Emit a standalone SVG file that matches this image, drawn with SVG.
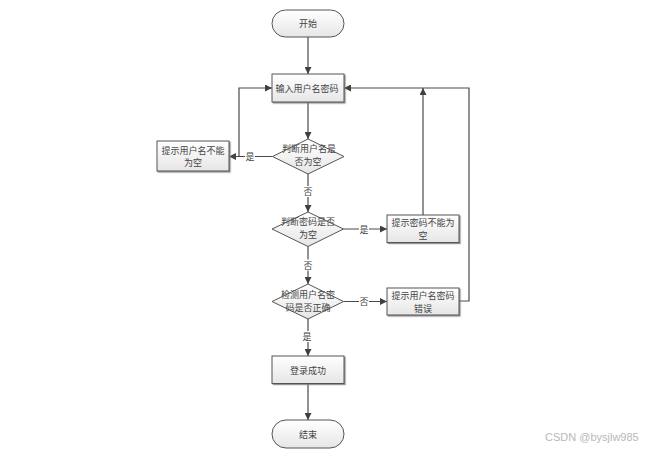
<svg xmlns="http://www.w3.org/2000/svg" width="655" height="450" viewBox="0 0 655 450">
<defs>
<linearGradient id="g" x1="0" y1="0" x2="0" y2="1">
<stop offset="0" stop-color="#ffffff"/>
<stop offset="1" stop-color="#e6e6e6"/>
</linearGradient>
<marker id="ah" viewBox="0 0 10 10" refX="10" refY="5" markerWidth="7" markerHeight="7" markerUnits="userSpaceOnUse" orient="auto">
<path d="M0,0 L10,5 L0,10 z" fill="#404040"/>
</marker>
<filter id="sh" x="-10%" y="-10%" width="130%" height="140%">
<feDropShadow dx="1.2" dy="1.2" stdDeviation="0.6" flood-color="#777" flood-opacity="0.8"/>
</filter>
</defs>
<style>
.shape{fill:url(#g);stroke:#555;stroke-width:1;}
.box{filter:url(#sh);}
text{font-family:"Noto Sans CJK SC","Liberation Sans",sans-serif;font-size:9px;fill:#444;text-anchor:middle;dominant-baseline:central;}
.lbl{font-size:9px;}
.ca{fill:none;stroke:#4a4a4a;stroke-width:1.2;marker-end:url(#ah);}
.wm{font-family:"Liberation Sans",sans-serif;font-size:11px;fill:#b8b8b8;text-anchor:start;}
</style>
<rect width="655" height="450" fill="#ffffff"/>
<g id="connectors">
<path class="ca" d="M308,37 V74"/>
<path class="ca" d="M308,102 V139"/>
<path class="ca" d="M272.5,156.5 H229"/>
<path class="ca" d="M229,156.5 H239 V88 H272"/>
<path class="ca" d="M308,174 V212"/>
<path class="ca" d="M343.5,229 H387"/>
<path class="ca" d="M423,215 V88"/>
<path class="ca" d="M308,246.5 V284"/>
<path class="ca" d="M343.5,301.5 H387"/>
<path class="ca" d="M459,301 H469 V88 H344"/>
<path class="ca" d="M308,319 V356"/>
<path class="ca" d="M308,383.5 V420"/>
<rect x="245" y="151" width="10" height="11" fill="#fff"/>
<text class="lbl" x="250" y="156.5">是</text>
<rect x="303" y="186" width="10" height="11" fill="#fff"/>
<text class="lbl" x="308" y="191.5">否</text>
<rect x="359" y="223.5" width="10" height="11" fill="#fff"/>
<text class="lbl" x="364" y="229">是</text>
<rect x="303" y="259.5" width="10" height="11" fill="#fff"/>
<text class="lbl" x="308" y="265">否</text>
<rect x="359" y="296" width="10" height="11" fill="#fff"/>
<text class="lbl" x="364" y="301.5">否</text>
<rect x="302" y="331" width="10" height="11" fill="#fff"/>
<text class="lbl" x="307" y="336.5">是</text>
</g>
<g id="start">
<rect class="shape" x="272" y="10" width="72" height="27" rx="13.5" ry="13.5"/>
<text x="308" y="23.5">开始</text>
</g>
<g id="input">
<rect class="shape box" x="272" y="74" width="72" height="28"/>
<text x="307" y="88">输入用户名密码</text>
</g>
<g id="check-user-empty">
<polygon class="shape" points="308,139 344,156.5 308,174 272.5,156.5"/>
<text x="309" y="148">判断用户名是</text>
<text x="308" y="161">否为空</text>
</g>
<g id="user-empty-msg">
<rect class="shape box" x="157" y="141" width="72" height="30"/>
<text x="193" y="150">提示用户名不能</text>
<text x="193" y="162.5">为空</text>
</g>
<g id="check-pwd-empty">
<polygon class="shape" points="308,212 343.5,229 308,246.5 272,229"/>
<text x="308" y="221.5">判断密码是否</text>
<text x="308" y="234">为空</text>
</g>
<g id="pwd-empty-msg">
<rect class="shape box" x="387" y="215" width="72" height="27.5"/>
<text x="423" y="222.5">提示密码不能为</text>
<text x="423" y="235">空</text>
</g>
<g id="check-correct">
<polygon class="shape" points="308,284 343.5,301.5 308,319 272,301.5"/>
<text x="308" y="294.5">检测用户名密</text>
<text x="308" y="307">码是否正确</text>
</g>
<g id="wrong-msg">
<rect class="shape box" x="387" y="288" width="72" height="27"/>
<text x="423" y="295.5">提示用户名密码</text>
<text x="423" y="308">错误</text>
</g>
<g id="success">
<rect class="shape box" x="272" y="356" width="72" height="27.5"/>
<text x="308" y="370">登录成功</text>
</g>
<g id="end">
<rect class="shape" x="272" y="420" width="72" height="28" rx="14" ry="14"/>
<text x="308" y="434">结束</text>
</g>
<text class="wm" x="545" y="437">CSDN @bysjlw985</text>
</svg>
